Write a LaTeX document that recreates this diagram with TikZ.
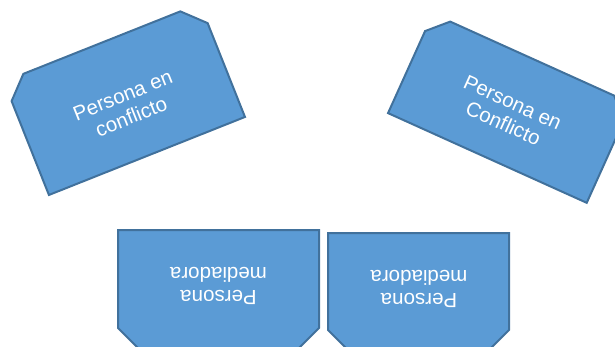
\documentclass[tikz,border=0pt]{standalone}
\usepackage{fontspec}
\setmainfont{Liberation Sans}
\definecolor{fillblue}{HTML}{5B9BD5}
\definecolor{edgeblue}{HTML}{41719C}
\tikzset{
  snipbox/.style={fill=fillblue, draw=edgeblue, line width=2pt, line join=miter},
  boxtext/.style={text=white, align=center, font=\fontsize{20.5}{23}\selectfont, inner sep=0pt},
}
% center x, center y, rotation, width, height, snip
\newcommand\snipshape[6]{%
  \begin{scope}[shift={(#1,#2)},rotate=#3]
    \draw[snipbox] (-#4/2,-#5/2) -- (#4/2,-#5/2) -- (#4/2,#5/2-#6) -- (#4/2-#6,#5/2)
      -- (-#4/2+#6,#5/2) -- (-#4/2,#5/2-#6) -- cycle;
  \end{scope}}
\begin{document}
\begin{tikzpicture}[x=1pt,y=1pt]
  \useasboundingbox (0,0) rectangle (615,346);
  \clip (0,0) rectangle (615,346);
  % top left
  \snipshape{124.4}{246.7}{21.7}{211}{122}{21}
  \node[boxtext, rotate=21.7] (p1) at (127,240) {Persona en\\conflicto};
  % top right
  \snipshape{509.8}{237.7}{-24.3}{218}{109}{19}
  \node[boxtext, rotate=-24.3] (p2) at (508,233) {Persona en\\Conflicto};
  % bottom left
  \snipshape{218.5}{56}{180}{201}{120}{22}
  \node[boxtext, rotate=180] (m1) at (218.5,60.5) {Persona\\mediadora};
  % bottom right
  \snipshape{418.5}{54.5}{180}{181}{117}{20}
  \node[boxtext, rotate=180] (m2) at (419,57) {Persona\\mediadora};
\end{tikzpicture}
\end{document}
